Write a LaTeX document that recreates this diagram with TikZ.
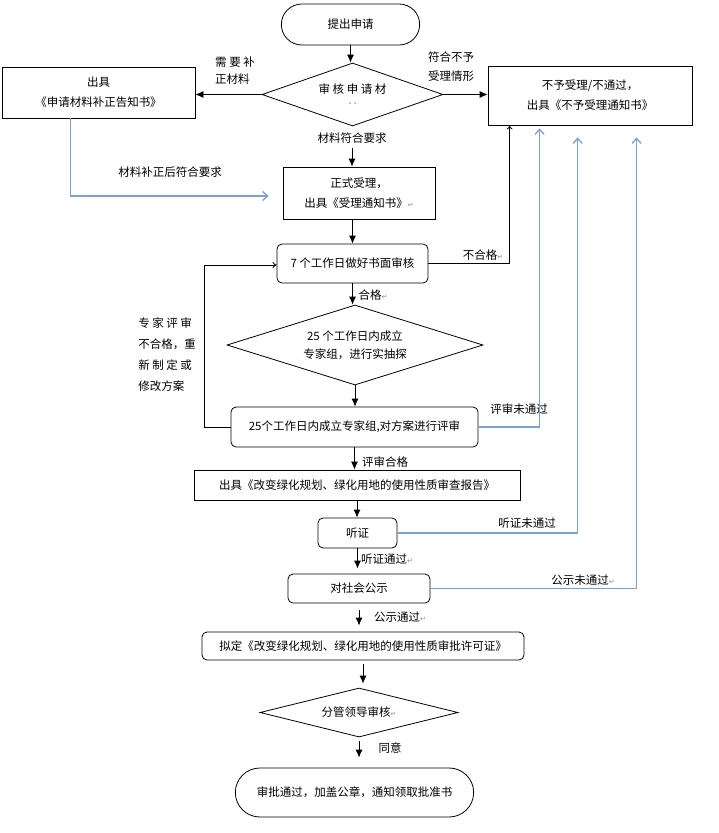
\documentclass[tikz,border=0pt]{standalone}
\usepackage{fontspec}
\setmainfont{Noto Sans CJK SC}
\newfontfamily\symfont{DejaVu Sans}
\usetikzlibrary{shapes, shapes.geometric, shapes.misc, calc, arrows.meta, positioning}
\definecolor{flowblue}{RGB}{125,160,205}
\newcommand{\retmark}{{\symfont\color{black!45}\scriptsize ↵}}

\begin{document}
\begin{tikzpicture}[x=1pt, y=-1pt, line width=0.8pt,
    font=\fontsize{11.5}{20}\selectfont,
    >={Latex[length=8pt,width=7pt]},
    box/.style={draw, rectangle, align=center, inner sep=2pt},
    rbox/.style={box, rounded corners=5pt},
    stadium/.style={draw, rounded rectangle, align=center},
    decision/.style={draw, diamond, align=center, inner sep=0pt},
    lbl/.style={align=left, inner sep=1pt},
    bluearr/.style={draw=flowblue, line width=1.3pt, -{Straight Barb[length=5pt,width=9pt]}},
    loopline/.style={-{To[length=4pt,width=6pt]}}]

    \useasboundingbox (0,0) rectangle (719,833);

    % main column
    \node[stadium, minimum width=145, minimum height=41] (start) at (350.5,24.5) {提出申请};
    \node[decision, aspect=3, minimum width=181, minimum height=63] (check) at (352.5,94.5) {审 核 申 请 材\\[-8pt]{\tiny ··}};
    \node[box, minimum width=193, minimum height=51] (supp) at (98.5,92.5) {出具\\《申请材料补正告知书》};
    \node[box, minimum width=204, minimum height=59] (refuse) at (590,95.5) {不予受理/不通过，\\出具《不予受理通知书》};
    \node[box, minimum width=152, minimum height=52] (accept) at (359,193) {正式受理，\\出具《受理通知书》\retmark};
    \node[rbox, minimum width=151, minimum height=39] (review1) at (352.5,263.5) {7 个工作日做好书面审核};
    \node[decision, aspect=3, minimum width=256, minimum height=80] (expert) at (355,345) {25 个工作日内成立\\[-2pt]专家组，进行实抽探};
    \node[rbox, minimum width=247, minimum height=40] (panel) at (354.5,427) {25个工作日内成立专家组,对方案进行评审};
    \node[box, minimum width=326, minimum height=30] (report) at (357,485) {出具《改变绿化规划、绿化用地的使用性质审查报告》};
    \node[rbox, minimum width=79, minimum height=30] (hearing) at (357.5,533) {听证};
    \node[rbox, minimum width=142, minimum height=29] (publicity) at (359,588.5) {对社会公示};
    \node[rbox, minimum width=322, minimum height=28] (permit) at (363,646) {拟定《改变绿化规划、绿化用地的使用性质审批许可证》};
    \node[decision, aspect=4, minimum width=198, minimum height=49] (leader) at (359,712.5) {分管领导审核\retmark};
    \node[stadium, minimum width=245, minimum height=49] (final) at (354.5,792.5) {审批通过，加盖公章，通知领取批准书};

    % labels
    \node[lbl] (lblneed) at (235,71) {需 要 补\\[-3pt]正材料};
    \node[lbl] (lblrefuse) at (451,67) {符合不予\\[-1pt]受理情形};
    \node[lbl] (lblok) at (352,138) {材料符合要求};
    \node[lbl] (lblfixed) at (170,172) {材料补正后符合要求};
    \node[lbl] (lblfail) at (483,255) {不合格\retmark};
    \node[lbl] (lblpass) at (373,295) {合格\retmark};
    \node[lbl] (lblloop) at (167,355) {专 家 评 审\\[1pt]不合格，重\\[1pt]新 制 定 或\\[1pt]修改方案};
    \node[lbl] (lblpanelno) at (519,409) {评审未通过};
    \node[lbl] (lblpanelok) at (385,462) {评审合格};
    \node[lbl] (lblhearno) at (527,523) {听证未通过};
    \node[lbl] (lblhearok) at (387,559) {听证通过\retmark};
    \node[lbl] (lblpubno) at (583,580) {公示未通过\retmark};
    \node[lbl] (lblpubok) at (400,617) {公示通过\retmark};
    \node[lbl] (lblagree) at (390,748) {同意};

    % entry points on the refusal box
    \coordinate (in1) at ($(refuse.south west)+(22,0)$);
    \coordinate (in2) at ($(refuse.south west)+(52,3)$);
    \coordinate (in3) at ($(refuse.south west)+(90,12)$);
    \coordinate (in4) at ($(refuse.south west)+(149,12)$);

    % black arrows
    \draw[->] (start.south) -- (start.south |- check.north);
    \draw[->] (check.west) -- (check.west -| supp.east);
    \draw[->] (check.east) -- (check.east -| refuse.west);
    \draw[->, shorten <=3pt] (lblok) -- (lblok |- accept.north);
    \draw[->] (review1.north |- accept.south) -- (review1.north);
    \draw[->] (review1.south) -- (review1.south |- expert.north);
    \draw[->] (expert.south) -- (expert.south |- panel.north);
    \draw[->] (panel.south) -- (panel.south |- report.north);
    \draw[->] (report.south) -- (report.south |- hearing.north);
    \draw[->, shorten >=5pt] (hearing.south) -- (hearing.south |- publicity.north);
    \draw[->, shorten <=7pt, shorten >=6pt] (publicity.south) -- (publicity.south |- permit.north);
    \draw[->, shorten <=4pt, shorten >=4pt] (permit.south) -- (permit.south |- leader.north);
    \draw[->, shorten <=4pt, shorten >=10pt] (leader.south) -- (leader.south |- final.north);

    \draw[loopline] (review1.east) -| (in1);
    \draw[loopline] (panel.west) -- ++(-26,0) |- ($(review1.west)+(0,1.5)$);

    % blue returns
    \draw[bluearr] ($(supp.south)+(-28,0)$) |- ($(accept.west)+(-14,3)$);
    \draw[bluearr] (panel.east) -| (in2);
    \draw[bluearr] (hearing.east) -| (in3);
    \draw[bluearr] (publicity.east) -| (in4);

\end{tikzpicture}
\end{document}
